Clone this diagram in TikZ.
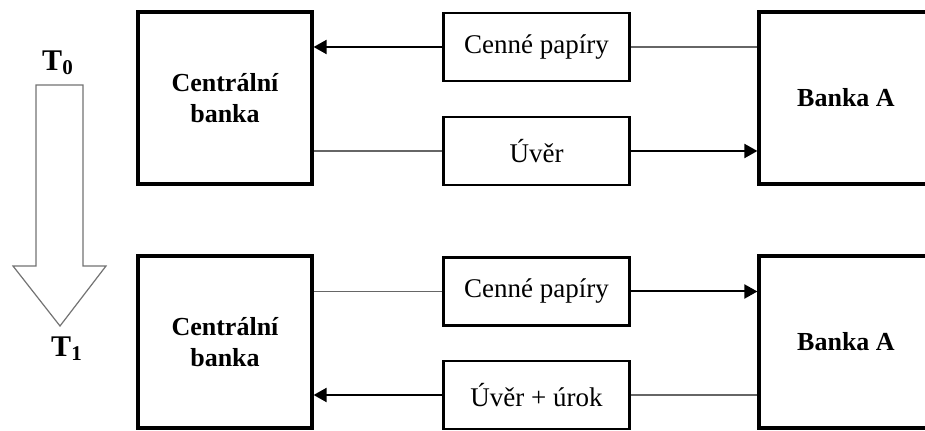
\documentclass[tikz,border=0pt]{standalone}
\usepackage{fontspec}
\setmainfont{Liberation Serif}
\usetikzlibrary{arrows.meta}

\begin{document}
\begin{tikzpicture}[x=0.5pt, y=-0.5pt,
  every node/.style = {align=center, font=\fontsize{13.5}{16}\selectfont},
  bankbox/.style = {shape=rectangle, draw, line width=1.6pt, minimum width=87pt,
    minimum height=86pt, font=\fontsize{13}{15.5}\selectfont\bfseries},
  itembox/.style = {shape=rectangle, draw, line width=1.3pt, minimum width=93pt,
    minimum height=34pt},
  timelabel/.style = {font=\fontsize{15}{18}\selectfont\bfseries},
  plainline/.style = {draw=black!60, line width=0.6pt},
  flow/.style = {draw, line width=1pt, -{Triangle[length=6.5pt,width=7pt]}}]
  \clip (0,0) rectangle (925,431);

  % time arrow
  \draw[draw=black!55, line width=0.6pt, fill=white]
    (36,85) -- (83,85) -- (83,266) -- (106,266) -- (60,326) -- (13,266) -- (36,266) -- cycle;
  \node[timelabel] (t0) at (58,63) {T\textsubscript{0}};
  \node[timelabel] (t1) at (67,349) {T\textsubscript{1}};

  % T0
  \node[bankbox] (cb0) at (225,98) {Centrální\\banka};
  \node[bankbox] (ba0) at (846,98) {Banka A};
  \node[itembox] (cp0) at (536.5,47) {Cenné papíry};
  \node[itembox] (uv0) at (536.5,151) {Úvěr};
  \draw[flow] (cp0.west) -- (cp0.west -| cb0.east);
  \draw[plainline] (cp0.east) -- (cp0.east -| ba0.west);
  \draw[plainline] (uv0.west) -- (uv0.west -| cb0.east);
  \draw[flow] (uv0.east) -- (uv0.east -| ba0.west);

  % T1
  \node[bankbox] (cb1) at (225,342) {Centrální\\banka};
  \node[bankbox] (ba1) at (846,342) {Banka A};
  \node[itembox] (cp1) at (536.5,291.5) {Cenné papíry};
  \node[itembox] (uv1) at (536.5,395) {Úvěr + úrok};
  \draw[plainline] (cp1.west) -- (cp1.west -| cb1.east);
  \draw[flow] (cp1.east) -- (cp1.east -| ba1.west);
  \draw[flow] (uv1.west) -- (uv1.west -| cb1.east);
  \draw[plainline] (uv1.east) -- (uv1.east -| ba1.west);
\end{tikzpicture}
\end{document}
